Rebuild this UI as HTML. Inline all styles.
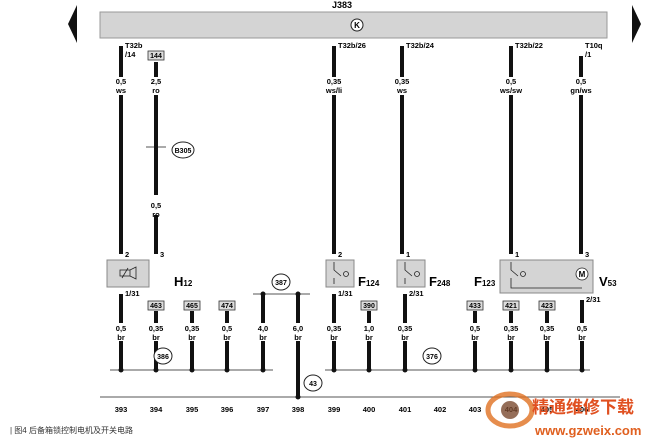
<!DOCTYPE html>
<html><head><meta charset="utf-8"><style>
html,body{margin:0;padding:0;background:#fff;}
svg{display:block;font-family:"Liberation Sans","Noto Sans CJK SC",sans-serif;font-weight:bold;}
</style></head><body>
<svg width="655" height="443" viewBox="0 0 655 443" xmlns="http://www.w3.org/2000/svg">
<!-- top bar -->
<rect x="100" y="12" width="507" height="26" fill="#d4d4d4" stroke="#999" stroke-width="1"/>
<polygon points="77,5 77,43 68,24" fill="#111"/>
<polygon points="632,5 632,43 641,24" fill="#111"/>
<text x="332" y="8" font-size="9">J383</text>
<circle cx="357" cy="25" r="6" fill="#fff" stroke="#222" stroke-width="1"/>
<text x="357" y="28" font-size="8" text-anchor="middle">K</text>

<g stroke="#111" stroke-width="4" fill="none">
<!-- top wires -->
<line x1="121" y1="46" x2="121" y2="77"/><line x1="121" y1="95" x2="121" y2="254"/>
<line x1="156" y1="62" x2="156" y2="77"/><line x1="156" y1="95" x2="156" y2="195"/><line x1="156" y1="215" x2="156" y2="254"/>
<line x1="334" y1="46" x2="334" y2="77"/><line x1="334" y1="95" x2="334" y2="254"/>
<line x1="402" y1="46" x2="402" y2="77"/><line x1="402" y1="95" x2="402" y2="254"/>
<line x1="511" y1="46" x2="511" y2="77"/><line x1="511" y1="95" x2="511" y2="254"/>
<line x1="581" y1="56" x2="581" y2="77"/><line x1="581" y1="95" x2="581" y2="254"/>
<!-- bottom wires -->
<line x1="121" y1="294" x2="121" y2="323"/><line x1="121" y1="341" x2="121" y2="370"/>
<line x1="156" y1="311" x2="156" y2="323"/><line x1="156" y1="341" x2="156" y2="370"/>
<line x1="192" y1="311" x2="192" y2="323"/><line x1="192" y1="341" x2="192" y2="370"/>
<line x1="227" y1="311" x2="227" y2="323"/><line x1="227" y1="341" x2="227" y2="370"/>
<line x1="263" y1="294" x2="263" y2="323"/><line x1="263" y1="341" x2="263" y2="370"/>
<line x1="298" y1="294" x2="298" y2="323"/><line x1="298" y1="341" x2="298" y2="397"/>
<line x1="334" y1="294" x2="334" y2="323"/><line x1="334" y1="341" x2="334" y2="370"/>
<line x1="369" y1="311" x2="369" y2="323"/><line x1="369" y1="341" x2="369" y2="370"/>
<line x1="405" y1="294" x2="405" y2="323"/><line x1="405" y1="341" x2="405" y2="370"/>
<line x1="475" y1="311" x2="475" y2="323"/><line x1="475" y1="341" x2="475" y2="370"/>
<line x1="511" y1="311" x2="511" y2="323"/><line x1="511" y1="341" x2="511" y2="370"/>
<line x1="547" y1="311" x2="547" y2="323"/><line x1="547" y1="341" x2="547" y2="370"/>
<line x1="582" y1="300" x2="582" y2="323"/><line x1="582" y1="341" x2="582" y2="370"/>
</g>
<g stroke="#555" stroke-width="1">
<line x1="110" y1="370" x2="273" y2="370"/>
<line x1="325" y1="370" x2="590" y2="370"/>
<line x1="253" y1="294" x2="310" y2="294"/>
<line x1="100" y1="397" x2="620" y2="397"/>
<line x1="146" y1="147" x2="166" y2="147"/>
</g>
<g fill="#111">
<circle cx="121" cy="370" r="2.5"/><circle cx="156" cy="370" r="2.5"/><circle cx="192" cy="370" r="2.5"/><circle cx="227" cy="370" r="2.5"/><circle cx="263" cy="370" r="2.5"/>
<circle cx="334" cy="370" r="2.5"/><circle cx="369" cy="370" r="2.5"/><circle cx="405" cy="370" r="2.5"/><circle cx="475" cy="370" r="2.5"/><circle cx="511" cy="370" r="2.5"/><circle cx="547" cy="370" r="2.5"/><circle cx="582" cy="370" r="2.5"/>
<circle cx="263" cy="294" r="2.5"/><circle cx="298" cy="294" r="2.5"/><circle cx="298" cy="397" r="2.5"/><circle cx="156" cy="147" r="2"/>
</g>

<!-- circles -->
<g fill="#fff" stroke="#222" stroke-width="1">
<ellipse cx="183" cy="150" rx="11" ry="8"/>
<ellipse cx="281" cy="282" rx="9" ry="8"/>
<ellipse cx="163" cy="356" rx="9" ry="8"/>
<ellipse cx="432" cy="356" rx="9" ry="8"/>
<ellipse cx="313" cy="383" rx="9" ry="8"/>
</g>
<g font-size="7" text-anchor="middle">
<text x="183" y="153">B305</text><text x="281" y="285">387</text><text x="163" y="359">386</text><text x="432" y="359">376</text><text x="313" y="386">43</text>
</g>

<!-- top labels -->
<g font-size="7.5">
<text x="125" y="48">T32b</text><text x="125" y="57">/14</text>
<text x="338" y="48">T32b/26</text><text x="406" y="48">T32b/24</text>
<text x="515" y="48">T32b/22</text><text x="585" y="48">T10q</text><text x="585" y="57">/1</text>
</g>
<rect x="148" y="51" width="16" height="9" fill="#ddd" stroke="#333" stroke-width="0.8"/>
<text x="156" y="58" font-size="7" text-anchor="middle">144</text>
<g font-size="7.5" text-anchor="middle">
<text x="121" y="84">0,5</text><text x="121" y="93">ws</text>
<text x="156" y="84">2,5</text><text x="156" y="93">ro</text>
<text x="156" y="208">0,5</text><text x="156" y="217">ro</text>
<text x="334" y="84">0,35</text><text x="334" y="93">ws/li</text>
<text x="402" y="84">0,35</text><text x="402" y="93">ws</text>
<text x="511" y="84">0,5</text><text x="511" y="93">ws/sw</text>
<text x="581" y="84">0,5</text><text x="581" y="93">gn/ws</text>
</g>

<!-- components -->
<g fill="#d4d4d4" stroke="#888" stroke-width="1">
<rect x="107" y="260" width="42" height="27"/>
<rect x="326" y="260" width="28" height="27"/>
<rect x="397" y="260" width="28" height="27"/>
<rect x="500" y="260" width="93" height="33"/>
</g>
<g stroke="#222" stroke-width="0.8" fill="none">
<rect x="120" y="270" width="10" height="6"/><path d="M130 270 L136 267 L136 279 L130 276"/><line x1="122" y1="278" x2="128" y2="268"/>
<path d="M334 262 V270 L341 276 M334 278 V284"/><circle cx="346" cy="274" r="2.5"/>
<path d="M405 262 V270 L412 276 M405 278 V284"/><circle cx="417" cy="274" r="2.5"/>
<path d="M511 262 V270 L518 276 M511 278 V288 H582"/><circle cx="523" cy="274" r="2.5"/>
<circle cx="582" cy="274" r="6" fill="#fff"/>
</g>
<text x="582" y="277" font-size="8" text-anchor="middle">M</text>
<g font-size="7.5">
<text x="125" y="257">2</text><text x="160" y="257">3</text><text x="338" y="257">2</text><text x="406" y="257">1</text><text x="515" y="257">1</text><text x="585" y="257">3</text>
<text x="125" y="296">1/31</text><text x="338" y="296">1/31</text><text x="409" y="296">2/31</text><text x="586" y="302">2/31</text>
</g>
<g font-size="13">
<text x="174" y="286">H<tspan font-size="8">12</tspan></text>
<text x="358" y="286">F<tspan font-size="8">124</tspan></text>
<text x="429" y="286">F<tspan font-size="8">248</tspan></text>
<text x="474" y="286">F<tspan font-size="8">123</tspan></text>
<text x="599" y="286">V<tspan font-size="8">53</tspan></text>
</g>

<!-- bottom label boxes -->
<g fill="#ddd" stroke="#333" stroke-width="0.8">
<rect x="148" y="301" width="16" height="9"/><rect x="184" y="301" width="16" height="9"/><rect x="219" y="301" width="16" height="9"/>
<rect x="361" y="301" width="16" height="9"/><rect x="467" y="301" width="16" height="9"/><rect x="503" y="301" width="16" height="9"/><rect x="539" y="301" width="16" height="9"/>
</g>
<g font-size="7" text-anchor="middle">
<text x="156" y="308">463</text><text x="192" y="308">465</text><text x="227" y="308">474</text>
<text x="369" y="308">390</text><text x="475" y="308">433</text><text x="511" y="308">421</text><text x="547" y="308">423</text>
</g>
<g font-size="7.5" text-anchor="middle">
<text x="121" y="331">0,5</text><text x="121" y="340">br</text>
<text x="156" y="331">0,35</text><text x="156" y="340">br</text>
<text x="192" y="331">0,35</text><text x="192" y="340">br</text>
<text x="227" y="331">0,5</text><text x="227" y="340">br</text>
<text x="263" y="331">4,0</text><text x="263" y="340">br</text>
<text x="298" y="331">6,0</text><text x="298" y="340">br</text>
<text x="334" y="331">0,35</text><text x="334" y="340">br</text>
<text x="369" y="331">1,0</text><text x="369" y="340">br</text>
<text x="405" y="331">0,35</text><text x="405" y="340">br</text>
<text x="475" y="331">0,5</text><text x="475" y="340">br</text>
<text x="511" y="331">0,35</text><text x="511" y="340">br</text>
<text x="547" y="331">0,35</text><text x="547" y="340">br</text>
<text x="582" y="331">0,5</text><text x="582" y="340">br</text>
</g>
<g font-size="7.5" text-anchor="middle">
<text x="121" y="412">393</text><text x="156" y="412">394</text><text x="192" y="412">395</text><text x="227" y="412">396</text><text x="263" y="412">397</text><text x="298" y="412">398</text>
<text x="334" y="412">399</text><text x="369" y="412">400</text><text x="405" y="412">401</text><text x="440" y="412">402</text><text x="475" y="412">403</text><text x="511" y="412">404</text><text x="547" y="412">405</text><text x="582" y="412">406</text>
</g>
<text x="10" y="433" font-size="8" font-weight="normal" fill="#333">| 图4  后备箱锁控制电机及开关电路</text>

<!-- watermark -->
<ellipse cx="510" cy="410" rx="22" ry="16" fill="none" stroke="#e07020" stroke-width="5" opacity="0.8"/>
<circle cx="510" cy="410" r="9" fill="#7a4a30" opacity="0.8"/>
<text x="532" y="413" font-size="17" fill="#e05020" font-family="'Noto Sans CJK SC',sans-serif">精通维修下载</text>
<text x="535" y="435" font-size="13" fill="#e06020">www.gzweix.com</text>
</svg>
</body></html>
